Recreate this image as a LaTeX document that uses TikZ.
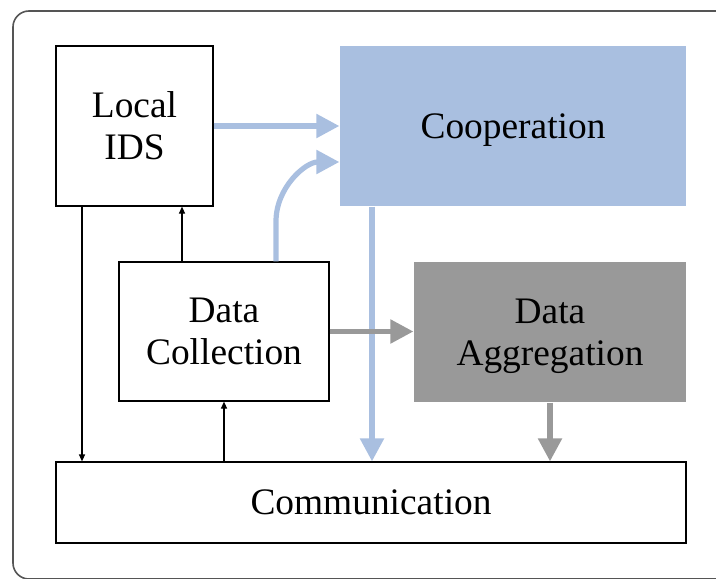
\documentclass[tikz,border=0pt]{standalone}
\usepackage{fontspec}
\setmainfont{Liberation Serif}
\usetikzlibrary{arrows.meta}
\definecolor{coopblue}{RGB}{169,191,224}
\definecolor{agggray}{RGB}{153,153,153}
\definecolor{framegray}{RGB}{85,85,85}

\begin{document}
\begin{tikzpicture}[line join=miter,x=0.5pt,y=-0.5pt,
		box/.style={draw=black,line width=0.6pt,align=center,inner sep=0pt,font=\fontsize{18.7}{21}\selectfont},
		ctrl/.style={line width=0.6pt,-{Triangle[length=3.5pt,width=3pt]}},
		blueflow/.style={draw=coopblue,line width=2.6pt,-{Triangle[length=11.5pt,width=11.5pt,fill=coopblue]}},
		grayflow/.style={draw=agggray,line width=2.6pt,-{Triangle[length=11.5pt,width=11.5pt,fill=agggray]}}]
		\useasboundingbox (0,0) rectangle (716,578);
		\clip (0,0) rectangle (716,578);
		\draw [framegray,line width=0.8pt,rounded corners=8pt] (13,11) rectangle (740,579);
		% blocks
		\node [box,minimum width=78.5pt,minimum height=80pt] (lids) at (134.5,126) {Local\\IDS};
		\node [box,draw=none,fill=coopblue,text depth=0pt,minimum width=173pt,minimum height=80pt] (coop) at (513,126) {Cooperation};
		\node [box,minimum width=105pt,minimum height=69.5pt] (dcol) at (224,331.5) {Data\\Collection};
		\node [box,draw=none,fill=agggray,text depth=0pt,minimum width=136pt,minimum height=70pt] (dagg) at (550,332) {Data\\Aggregation};
		\node [box,minimum width=315pt,minimum height=40.5pt] (comm) at (371,502.5) {Communication};
		% helper points
		\coordinate (dcolup) at ([xshift=26pt]dcol.north);
		\coordinate (dcolids) at ([xshift=-21pt]dcol.north);
		\coordinate (lidsdown) at ([xshift=-26.25pt]lids.south);
		\coordinate (coopdown) at ([xshift=-70.5pt]coop.south);
		\coordinate (coopin) at ([yshift=-18pt]coop.west);
		% flows
		\draw [blueflow] (lids.east) -- (coop.west |- lids.east);
		\draw [blueflow] (dcolup) -- ++(0,-40) to[out=90,in=180] (coopin);
		\draw [blueflow] (coopdown) -- (coopdown |- comm.north);
		\draw [grayflow] (dcol.east) -- (dagg.west |- dcol.east);
		\draw [grayflow] (dagg.south) -- (dagg.south |- comm.north);
		\draw [ctrl] (dcolids) -- (dcolids |- lids.south);
		\draw [ctrl] (lidsdown) -- (lidsdown |- comm.north);
		\draw [ctrl] (dcol.south |- comm.north) -- (dcol.south);
	\end{tikzpicture}
\end{document}
